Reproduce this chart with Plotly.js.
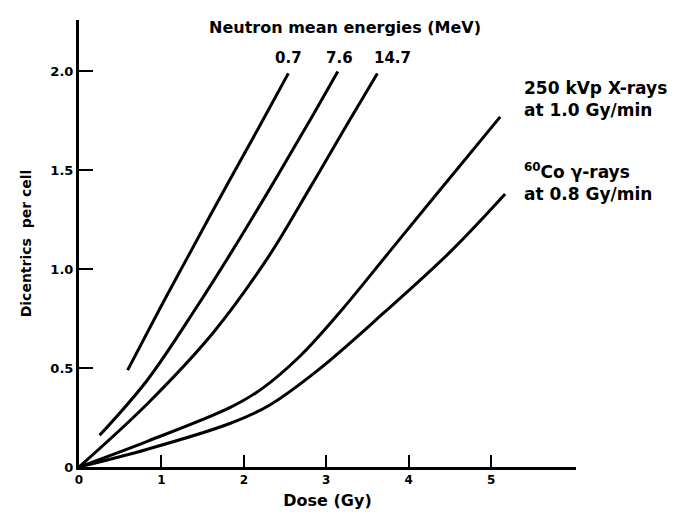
<!DOCTYPE html>
<html>
<head>
<meta charset="utf-8">
<script src="https://cdn.plot.ly/plotly-3.0.1.min.js"></script>
<style>html,body{margin:0;padding:0;background:#fff;}#chart{width:675px;height:512px;}</style>
</head>
<body>
<div id="chart"></div>
<script>
// Dose (Gy) and dicentrics per cell
const doseN07 = [0.59, 0.98, 1.33, 1.80, 2.20, 2.54];
const dicN07  = [0.49, 0.80, 1.07, 1.43, 1.73, 1.99];

const doseN76 = [0.25, 0.83, 1.43, 1.84, 2.32, 2.77, 3.14];
const dicN76  = [0.16, 0.44, 0.81, 1.08, 1.41, 1.73, 2.00];

const doseN147 = [0, 0.83, 1.63, 2.31, 2.80, 3.25, 3.62];
const dicN147  = [0, 0.32, 0.68, 1.07, 1.41, 1.73, 1.99];

const doseXray = [0, 0.83, 1.83, 2.20, 2.68, 3.18, 3.77, 4.26, 5.11];
const dicXray  = [0, 0.13, 0.30, 0.39, 0.56, 0.79, 1.09, 1.34, 1.77];

const doseCo = [0, 0.83, 1.83, 2.30, 2.90, 3.70, 4.51, 5.17];
const dicCo  = [0, 0.09, 0.22, 0.31, 0.49, 0.78, 1.09, 1.38];

const xTickVals = [0, 1, 2, 3, 4, 5];
const xTickText = ['0', '1', '2', '3', '4', '5'];
const yTickVals = [0, 0.5, 1.0, 1.5, 2.0];
const yTickText = ['0', '0.5', '1.0', '1.5', '2.0'];

const seriesNames = ['Neutrons 0.7 MeV', 'Neutrons 7.6 MeV', 'Neutrons 14.7 MeV',
                     '250 kVp X-rays at 1.0 Gy/min', '60Co γ-rays at 0.8 Gy/min'];

const lineStyle = {color: '#000', width: 3, shape: 'spline', smoothing: 1.0};
const mk = (x, y, name) => ({x: x, y: y, name: name, type: 'scatter', mode: 'lines', line: lineStyle, hoverinfo: 'x+y+name'});

const data = [
  mk(doseN07, dicN07, seriesNames[0]),
  mk(doseN76, dicN76, seriesNames[1]),
  mk(doseN147, dicN147, seriesNames[2]),
  mk(doseXray, dicXray, seriesNames[3]),
  mk(doseCo, dicCo, seriesNames[4])
];

const F = 'DejaVu Sans, Arial, sans-serif';
const bold = (s) => '<b>' + s + '</b>';

const layout = {
  width: 675, height: 512,
  margin: {l: 79, r: 99, t: 20, b: 45, pad: 0},
  paper_bgcolor: '#fff', plot_bgcolor: '#fff',
  showlegend: false,
  font: {family: F, color: '#000'},
  xaxis: {
    range: [0, 6.03], showgrid: false, zeroline: false,
    showline: true, linecolor: '#000', linewidth: 3,
    ticks: 'inside', ticklen: 12, tickwidth: 2, tickcolor: '#000',
    tickvals: xTickVals, ticktext: xTickText.map(bold),
    tickfont: {family: F, size: 12, color: '#000'},
    title: {text: bold('Dose (Gy)'), font: {family: F, size: 16, color: '#000'}, standoff: 9}
  },
  yaxis: {
    range: [0, 2.26], showgrid: false, zeroline: false,
    showline: true, linecolor: '#000', linewidth: 3,
    ticks: 'inside', ticklen: 14, tickwidth: 2, tickcolor: '#000',
    tickvals: yTickVals, ticktext: yTickText.map(bold),
    tickfont: {family: F, size: 13, color: '#000'},
    title: {text: bold('Dicentrics  per cell'), font: {family: F, size: 14, color: '#000'}, standoff: 16}
  },
  annotations: [
    {x: 1.55, y: 2.22, xref: 'x', yref: 'y', xanchor: 'left', yanchor: 'middle', showarrow: false,
     text: bold('Neutron mean energies (MeV)'), font: {family: F, size: 16, color: '#000'}},
    {x: 2.54, y: 2.07, xref: 'x', yref: 'y', xanchor: 'center', yanchor: 'middle', showarrow: false,
     text: bold('0.7'), font: {family: F, size: 15, color: '#000'}},
    {x: 3.16, y: 2.07, xref: 'x', yref: 'y', xanchor: 'center', yanchor: 'middle', showarrow: false,
     text: bold('7.6'), font: {family: F, size: 15, color: '#000'}},
    {x: 3.80, y: 2.07, xref: 'x', yref: 'y', xanchor: 'center', yanchor: 'middle', showarrow: false,
     text: bold('14.7'), font: {family: F, size: 15, color: '#000'}},
    {x: 5.38, y: 1.86, xref: 'x', yref: 'y', xanchor: 'left', yanchor: 'middle', align: 'left', showarrow: false,
     text: bold('250 kVp X-rays<br>at 1.0 Gy/min'), font: {family: F, size: 17, color: '#000'}},
    {x: 5.38, y: 1.44, xref: 'x', yref: 'y', xanchor: 'left', yanchor: 'middle', align: 'left', showarrow: false,
     text: bold('<sup>60</sup>Co γ-rays<br>at 0.8 Gy/min'), font: {family: F, size: 17, color: '#000'}}
  ]
};

Plotly.newPlot('chart', data, layout, {displayModeBar: false, staticPlot: true});
</script>
</body>
</html>
